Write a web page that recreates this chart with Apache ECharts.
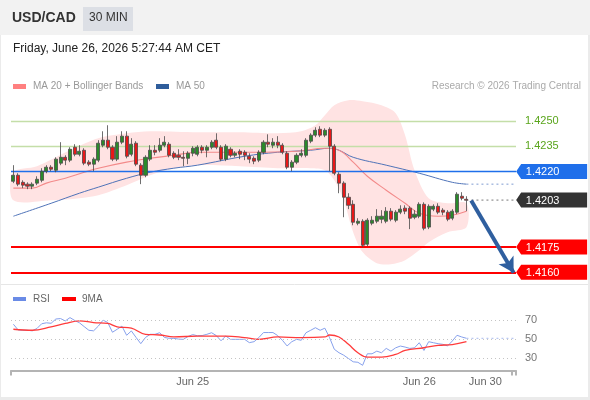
<!DOCTYPE html>
<html><head><meta charset="utf-8">
<script src="https://cdn.jsdelivr.net/npm/echarts@6/dist/echarts.min.js"></script>
<style>
html,body{margin:0;padding:0;background:#ebebeb}
#wrap{position:relative;width:590px;height:400px;overflow:hidden}
#hdr{position:absolute;left:0;top:0;width:590px;height:35px;background:#f2f2f2}
#bdy{position:absolute;left:1px;top:35px;width:587px;height:362px;background:#fff}
#c{position:absolute;left:0;top:0;width:590px;height:400px}
</style>
</head><body>
<div id="wrap"><div id="hdr"></div><div id="bdy"></div><div id="c"></div></div>
<script>
const slotCount = 107;
const tickLabels = ['Jun 25', 'Jun 26', 'Jun 30'];
const tickSlots = [38, 86, 100];

const open = [1.42142,1.42178,1.42136,1.42125,1.42113,1.42131,1.42148,1.42202,1.42226,1.42208,
1.42250,1.42285,1.42268,1.42345,1.42303,1.42327,1.42256,1.42244,1.42268,1.42357,
1.42387,1.42345,1.42274,1.42375,1.42411,1.42303,1.42369,1.42238,1.42178,1.42274,
1.42327,1.42327,1.42357,1.42363,1.42309,1.42297,1.42285,1.42279,1.42309,1.42303,
1.42345,1.42327,1.42345,1.42387,1.42345,1.42274,1.42333,1.42297,1.42321,1.42315,
1.42291,1.42279,1.42268,1.42315,1.42375,1.42357,1.42375,1.42357,1.42309,1.42226,
1.42256,1.42297,1.42297,1.42381,1.42417,1.42452,1.42417,1.42452,1.42351,1.42184,
1.42131,1.42047,1.42005,1.41892,1.41904,1.41767,1.41892,1.41904,1.41916,1.41904,
1.41964,1.41910,1.41958,1.41982,1.41982,1.41928,1.41934,1.42005,1.41869,1.41976,
1.41993,1.41970,1.41958,1.41922,1.41958,1.42053,1.42035];
const close = [1.42178,1.42125,1.42119,1.42113,1.42125,1.42154,1.42202,1.42226,1.42214,1.42274,
1.42285,1.42268,1.42333,1.42303,1.42321,1.42250,1.42244,1.42274,1.42369,1.42387,
1.42345,1.42274,1.42375,1.42411,1.42291,1.42363,1.42244,1.42178,1.42285,1.42327,
1.42315,1.42357,1.42375,1.42297,1.42285,1.42285,1.42279,1.42309,1.42339,1.42345,
1.42327,1.42345,1.42375,1.42345,1.42274,1.42351,1.42297,1.42309,1.42303,1.42297,
1.42274,1.42262,1.42315,1.42375,1.42363,1.42375,1.42357,1.42315,1.42226,1.42256,
1.42297,1.42309,1.42387,1.42417,1.42446,1.42417,1.42446,1.42351,1.42190,1.42131,
1.42047,1.41999,1.41898,1.41904,1.41761,1.41910,1.41910,1.41934,1.41934,1.41964,
1.41916,1.41958,1.41976,1.41964,1.41922,1.41946,1.42005,1.41862,1.41993,1.41993,
1.41958,1.41958,1.41916,1.41964,1.42065,1.42041,1.42029];
const low = [1.42131,1.42113,1.42101,1.42095,1.42095,1.42119,1.42136,1.42190,1.42202,1.42196,
1.42238,1.42238,1.42256,1.42291,1.42291,1.42238,1.42232,1.42202,1.42256,1.42345,
1.42333,1.42262,1.42262,1.42363,1.42279,1.42291,1.42232,1.42125,1.42166,1.42262,
1.42297,1.42315,1.42345,1.42285,1.42274,1.42268,1.42232,1.42244,1.42291,1.42291,
1.42309,1.42285,1.42333,1.42333,1.42262,1.42262,1.42285,1.42285,1.42274,1.42268,
1.42250,1.42244,1.42256,1.42303,1.42345,1.42339,1.42339,1.42303,1.42214,1.42202,
1.42244,1.42285,1.42285,1.42369,1.42405,1.42405,1.42405,1.42202,1.42178,1.42071,
1.41928,1.41976,1.41880,1.41880,1.41749,1.41755,1.41880,1.41892,1.41892,1.41892,
1.41904,1.41898,1.41946,1.41946,1.41857,1.41916,1.41922,1.41850,1.41857,1.41964,
1.41946,1.41940,1.41904,1.41910,1.41946,1.42029,1.41964];
const high = [1.42238,1.42190,1.42148,1.42136,1.42136,1.42172,1.42220,1.42238,1.42238,1.42285,
1.42375,1.42297,1.42345,1.42363,1.42357,1.42339,1.42268,1.42285,1.42387,1.42440,
1.42476,1.42357,1.42411,1.42440,1.42440,1.42399,1.42381,1.42250,1.42297,1.42357,
1.42357,1.42399,1.42411,1.42375,1.42321,1.42333,1.42321,1.42321,1.42351,1.42357,
1.42357,1.42357,1.42387,1.42428,1.42357,1.42363,1.42345,1.42321,1.42333,1.42327,
1.42309,1.42291,1.42327,1.42387,1.42422,1.42399,1.42411,1.42369,1.42321,1.42268,
1.42309,1.42333,1.42399,1.42428,1.42464,1.42470,1.42458,1.42464,1.42363,1.42196,
1.42142,1.42071,1.42029,1.41922,1.41916,1.41922,1.41934,1.41976,1.41970,1.41988,
1.41982,1.41970,1.41999,1.41999,1.41993,1.41970,1.42017,1.42017,1.42005,1.42005,
1.42011,1.41982,1.41970,1.41976,1.42077,1.42077,1.42053];

const ma20 = [[0,1.42101],[4,1.42101],[7,1.42131],[11,1.42160],[15,1.42196],[18,1.42220],[24,1.42256],[29,1.42279],[34,1.42297],[39,1.42315],[50,1.42315],[60,1.42321],[66,1.42339],[69,1.42327],[72,1.42256],[75,1.42172],[79,1.42089],[83,1.42011],[86,1.41952],[90,1.41934],[93,1.41940],[96,1.41964]];
const ma50 = [[0,1.41934],[8,1.42011],[14,1.42071],[18,1.42107],[24,1.42160],[29,1.42196],[34,1.42220],[39,1.42238],[49,1.42291],[56,1.42315],[63,1.42327],[67,1.42339],[69,1.42327],[72,1.42285],[79,1.42238],[86,1.42190],[93,1.42136],[96,1.42125]];
const bandUpper = [[0,1.42196],[5,1.42232],[12,1.42327],[18,1.42399],[24,1.42428],[29,1.42440],[39,1.42434],[48,1.42434],[56,1.42428],[61,1.42440],[64,1.42476],[66,1.42536],[68,1.42595],[71,1.42625],[74,1.42619],[78,1.42595],[81,1.42548],[83,1.42417],[85,1.42208],[88,1.42041],[92,1.42011],[96,1.42011]];
const bandLower = [[0,1.42029],[8,1.42029],[14,1.42041],[18,1.42059],[24,1.42119],[29,1.42178],[34,1.42220],[39,1.42238],[48,1.42232],[56,1.42220],[63,1.42220],[66,1.42208],[68,1.42148],[70,1.42029],[72,1.41839],[74,1.41720],[77,1.41654],[80,1.41648],[83,1.41672],[86,1.41731],[88,1.41779],[92,1.41839],[96,1.41868]];

const rsi = [66,60,59.6,59.6,59,61.5,66.5,67.5,67,71.5,
72,69.5,73,70,67.5,63.5,59.6,59,64,70.3,
67.8,57.5,60.7,64,54.3,58.9,52,45.4,52,55.3,
55.3,57,52,51.1,51,50.3,50,53,55,53.8,
54,55.3,57,54,48.5,53.5,50,50,50,50,
46.5,47.5,51.8,57.2,57.2,57.2,54,49,43,47.5,
50,49,57,59.6,62.3,59.6,61.8,51.8,39.5,35.8,
33.2,29.7,26.2,25.7,22.5,34.7,34.7,37.5,35.8,40.4,
37.5,41,42.9,41.8,40.4,41,46.4,38.2,47.5,46.4,
45.4,44.7,43,48.2,54.3,52.5,51.1];
const rsiMa = [[0,60.7],[4,59.6],[8,63.2],[11,66.8],[14,69.6],[17,67.8],[20,66.8],[22,63.2],[25,61.8],[28,55.3],[31,54.6],[34,52.5],[39,53.5],[45,53.5],[49,51.8],[52,50],[56,52.5],[61,51.8],[66,52.5],[67,54.6],[69,52.5],[71,44.7],[73,35.8],[75,31.1],[78,31.1],[81,34],[83,38.2],[87,41.1],[90,43.6],[93,44.5],[96,47.5]];

const resistance = [1.4250, 1.4235];
const pivot = 1.4220;
const lastPrice = 1.4203;
const supports = [1.4175, 1.4160];
const rsiLevels = [30, 50, 70];

const FONT = 'Liberation Sans, Arial, sans-serif';
const slots = Array.from({length: slotCount}, (_, i) => String(i));
const lastIdx = open.length - 1;
const endIdx = slotCount - 1;
const candles = open.map((o, i) => [o, close[i], low[i], high[i]]);
const fmt = v => Number(v).toFixed(4);
const boxPath = 'path://M0,7.5L5,0L71,0L71,15L5,15Z';

const chart = echarts.init(document.getElementById('c'), null, {renderer: 'canvas'});

function box(v, color) {
  return {coord: [endIdx, v], value: v, itemStyle: {color: color}};
}

chart.setOption({
  animation: false,
  backgroundColor: 'transparent',
  textStyle: {fontFamily: FONT},
  grid: [
    {left: 11, right: 74, top: 91, height: 193},
    {left: 11, right: 74, top: 311, height: 59.5}
  ],
  xAxis: [
    {type: 'category', data: slots, gridIndex: 0, boundaryGap: true, show: false},
    {type: 'category', data: slots, gridIndex: 1, boundaryGap: true,
     axisLine: {lineStyle: {color: '#b4b4b4', width: 2}},
     axisTick: {show: true, length: 5, interval: (i) => i === 0 || i === endIdx, lineStyle: {color: '#b4b4b4', width: 2}},
     axisLabel: {interval: (i) => tickSlots.indexOf(i) >= 0,
       formatter: (v, i) => { const k = tickSlots.indexOf(i); return k >= 0 ? tickLabels[k] : ''; },
       color: '#666', fontSize: 11, margin: 6, fontFamily: FONT},
     splitLine: {show: false}}
  ],
  yAxis: [
    {type: 'value', gridIndex: 0, min: 1.4153, max: 1.4268, show: false, splitLine: {show: false}},
    {type: 'value', gridIndex: 1, min: 17, max: 80, show: false, splitLine: {show: false}}
  ],
  series: [
    {
      type: 'custom', xAxisIndex: 0, yAxisIndex: 0, z: 1, silent: true,
      data: [[0, lastPrice]],
      renderItem: function (params, api) {
        const pts = bandUpper.map(p => api.coord(p)).concat(bandLower.slice().reverse().map(p => api.coord(p)));
        return {type: 'polygon', shape: {points: pts, smooth: 0.3}, style: {fill: '#ffe3e3'}};
      }
    },
    {
      type: 'line', xAxisIndex: 0, yAxisIndex: 0, data: [], symbol: 'none', z: 2,
      markLine: {
        silent: true, symbol: ['none', 'none'], precision: 5,
        label: {show: true, position: 'end', distance: 9, fontSize: 11, fontFamily: FONT, formatter: p => fmt(p.value)},
        data: [
          {yAxis: resistance[0], lineStyle: {color: '#c4dea8', width: 1.3, type: 'solid'}, label: {color: '#5aa51c'}},
          {yAxis: resistance[1], lineStyle: {color: '#c4dea8', width: 1.3, type: 'solid'}, label: {color: '#5aa51c'}},
          {yAxis: pivot, lineStyle: {color: '#1f6fea', width: 1.3, type: 'solid'}, label: {show: false}},
          {yAxis: supports[0], lineStyle: {color: '#ff0000', width: 2, type: 'solid'}, label: {show: false}},
          {yAxis: supports[1], lineStyle: {color: '#ff0000', width: 2, type: 'solid'}, label: {show: false}}
        ]
      }
    },
    {type: 'line', xAxisIndex: 0, yAxisIndex: 0, data: ma50, smooth: 0.4, symbol: 'none', z: 3,
     lineStyle: {color: '#4f73b8', width: 1}},
    {type: 'line', xAxisIndex: 0, yAxisIndex: 0, data: ma20, smooth: 0.4, symbol: 'none', z: 3,
     lineStyle: {color: '#f38a8a', width: 1.1}},
    {type: 'line', xAxisIndex: 0, yAxisIndex: 0, data: [[lastIdx, ma50[ma50.length - 1][1]], [endIdx, ma50[ma50.length - 1][1]]],
     symbol: 'none', z: 3, lineStyle: {color: '#7f9bd0', width: 1, type: [2, 3]}},
    {type: 'line', xAxisIndex: 0, yAxisIndex: 0, data: [[lastIdx, lastPrice], [endIdx, lastPrice]],
     symbol: 'none', z: 3, lineStyle: {color: '#777', width: 1, type: [2, 3]}},
    {
      type: 'candlestick', xAxisIndex: 0, yAxisIndex: 0, data: candles, barWidth: 3.6, z: 5,
      itemStyle: {color: '#2a8a2a', color0: '#e81818', borderColor: '#4a4a4a', borderColor0: '#4a4a4a', borderWidth: 0.8},
      markPoint: {
        silent: true, symbol: boxPath, symbolSize: [71, 15], symbolOffset: [38, 0], symbolKeepAspect: false, z: 10,
        label: {show: true, position: 'inside', color: '#fff', fontSize: 11, fontFamily: FONT, offset: [-9, 0.5], formatter: p => fmt(p.value)},
        data: [box(pivot, '#1f6fea'), box(lastPrice, '#333333'), box(supports[0], '#ff0000'), box(supports[1], '#ff0000')]
      }
    },
    {
      type: 'line', xAxisIndex: 0, yAxisIndex: 0, data: [], symbol: 'none',
      markLine: {
        silent: true, symbol: ['none', 'arrow'], symbolSize: [13, 15], z: 8, precision: 5,
        lineStyle: {color: '#2f5f9f', width: 4, type: 'solid'},
        label: {show: false},
        data: [[{coord: [lastIdx + 1, lastPrice - 0.00002]}, {coord: [endIdx, supports[1] - 0.00003]}]]
      }
    },
    {type: 'line', xAxisIndex: 1, yAxisIndex: 1, data: rsi, symbol: 'none', z: 3,
     lineStyle: {color: '#86a0ec', width: 1},
     markLine: {
       silent: true, symbol: ['none', 'none'],
       lineStyle: {color: '#c4c4c4', width: 1, type: [1, 3]},
       label: {show: true, position: 'end', distance: 9, color: '#777', fontSize: 11, fontFamily: FONT, formatter: p => String(p.value)},
       data: rsiLevels.map(v => ({yAxis: v}))
     }},
    {type: 'line', xAxisIndex: 1, yAxisIndex: 1, data: rsiMa, smooth: 0.4, symbol: 'none', z: 4,
     lineStyle: {color: '#ff3b3b', width: 1.3}},
    {type: 'line', xAxisIndex: 1, yAxisIndex: 1, data: [[lastIdx, rsi[lastIdx]], [endIdx, rsi[lastIdx]]],
     symbol: 'none', z: 3, lineStyle: {color: '#a9bbef', width: 1, type: [2, 3]}}
  ],
  graphic: [
    {type: 'text', left: 12, top: 11, style: {text: 'USD/CAD', font: 'bold 14px ' + FONT, fill: '#333'}},
    {type: 'rect', left: 83, top: 7, shape: {width: 50, height: 24}, style: {fill: '#dcdfe5'}},
    {type: 'text', left: 89, top: 12, style: {text: '30 MIN', font: '12px ' + FONT, fill: '#333'}},
    {type: 'text', left: 13, top: 43, style: {text: 'Friday, June 26, 2026 5:27:44 AM CET', font: '12px ' + FONT, fill: '#222'}},
    {type: 'rect', left: 13, top: 84, shape: {width: 13, height: 5}, style: {fill: '#ff8080'}},
    {type: 'text', left: 33, top: 81, style: {text: 'MA 20 + Bollinger Bands', font: '10px ' + FONT, fill: '#999'}},
    {type: 'rect', left: 156, top: 84, shape: {width: 13, height: 5}, style: {fill: '#2f5d9b'}},
    {type: 'text', left: 176, top: 81, style: {text: 'MA 50', font: '10px ' + FONT, fill: '#999'}},
    {type: 'text', right: 9, top: 81, style: {text: 'Research © 2026 Trading Central', font: '10px ' + FONT, fill: '#aaa'}},
    {type: 'line', shape: {x1: 1, y1: 284.5, x2: 588, y2: 284.5}, style: {stroke: '#e6e6e6', lineWidth: 1}},
    {type: 'rect', left: 13, top: 297, shape: {width: 13, height: 4}, style: {fill: '#6a8be6'}},
    {type: 'text', left: 33, top: 294, style: {text: 'RSI', font: '10px ' + FONT, fill: '#666'}},
    {type: 'rect', left: 62, top: 297, shape: {width: 14, height: 4}, style: {fill: '#ff0000'}},
    {type: 'text', left: 82, top: 294, style: {text: '9MA', font: '10px ' + FONT, fill: '#666'}}
  ]
});
</script>
</body></html>
